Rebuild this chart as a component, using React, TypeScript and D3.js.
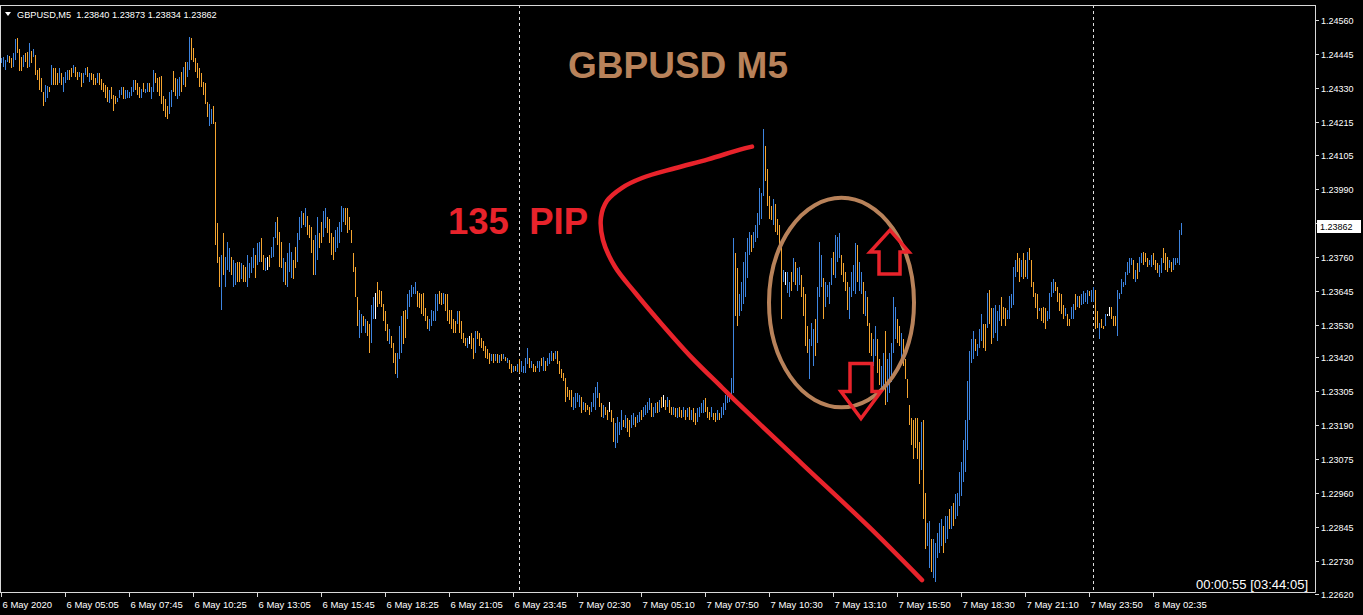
import React from "react";
import * as d3 from "d3";

// Bar highs / lows in pips above 1.2000 (price = 1.2 + v / 10000), one per 5-minute bar
const high = [
443.2,443.5,442.5,444.2,443.8,443.2,444.8,449.5,449.8,446.2,
443.5,444.2,444.8,445.2,448.2,445.5,446.2,444.2,439.2,439.8,
436.5,431.8,434.2,433.8,433.5,440.8,439.8,439.8,438.2,439.8,
438.2,436.8,438.5,439.2,439.2,439.8,440.8,440.2,438.5,438.5,
438.2,438.2,439.8,440.2,438.2,438.2,437.8,436.5,438.2,438.2,
436.2,434.8,434.2,433.2,432.5,433.5,430.8,430.2,429.8,432.5,
433.5,433.2,432.5,432.5,431.8,433.5,435.8,435.8,434.8,433.2,
432.8,434.8,432.8,434.8,434.8,433.2,439.2,438.2,436.5,436.8,
437.2,430.2,429.2,426.8,431.5,432.5,438.8,436.5,436.2,436.8,
438.5,440.2,441.8,441.8,450.2,449.8,446.5,443.2,441.5,439.8,
438.2,435.2,434.8,428.2,427.5,425.8,426.8,421.5,387.3,375.9,
376.6,383.9,375.9,380.9,378.9,375.9,374.9,373.9,374.3,
374.3,373.9,373.3,372.6,376.6,373.9,375.9,378.9,376.6,380.6,
380.9,382.3,376.6,375.6,375.9,376.6,379.3,382.6,387.6,389.3,
384.3,380.9,375.6,374.3,377.3,380.6,377.6,374.9,379.3,383.9,
389.3,391.6,390.9,392.3,389.9,386.6,385.9,381.6,383.3,389.3,
383.9,387.6,391.6,392.6,389.3,388.9,383.9,382.6,384.9,385.9,
387.6,393.3,392.3,392.6,392.6,389.3,384.9,377.3,372.6,362.3,
358.1,356.5,355.8,355.1,354.1,353.1,359.8,362.3,363.9,367.6,
364.9,364.3,360.1,357.5,353.1,351.5,349.1,346.8,343.5,343.5,
352.5,355.8,357.5,358.1,363.3,364.9,366.6,365.9,367.6,364.3,
363.9,363.3,363.9,358.5,355.8,355.1,358.1,357.5,363.3,363.3,
364.3,363.9,363.9,363.3,363.3,358.1,358.1,354.8,354.1,357.5,
357.5,354.1,350.1,348.5,348.5,349.1,350.1,348.5,350.8,350.8,350.1,
348.5,347.5,345.8,344.8,343.5,343.1,343.1,343.1,343.1,342.8,
343.1,343.1,342.1,341.8,341.1,339.8,339.1,339.1,339.8,341.5,
340.8,339.1,341.8,345.1,341.8,340.8,339.8,339.1,340.8,340.8,
341.8,342.1,340.8,341.8,343.5,344.1,343.5,344.1,344.1,340.8,
338.1,336.8,335.1,331.8,330.8,330.8,328.5,329.8,329.8,329.1,
328.5,326.8,326.5,325.8,325.1,326.8,329.8,331.8,333.5,329.8,
326.5,325.8,325.1,324.1,326.8,324.1,321.5,319.8,321.8,320.1,
324.1,320.8,322.5,321.5,320.8,322.5,323.1,321.8,322.5,323.5,
324.1,325.1,325.8,326.8,328.1,326.5,325.1,326.5,326.8,327.5,
328.5,329.1,327.5,328.5,327.5,325.1,325.1,324.8,324.8,325.1,
324.1,325.1,324.1,324.8,325.1,324.1,324.8,323.1,324.8,325.1,
326.5,327.5,328.1,325.1,323.5,325.1,323.1,323.1,324.1,323.1,
325.1,326.5,329.1,330.8,329.8,335.1,382.3,377.3,372.3,
363.3,367.6,374.3,377.6,382.3,384.3,383.3,384.3,386.6,390.9,
399.3,397.6,419.2,413.5,405.6,396.6,393.3,395.6,393.9,388.9,
386.6,379.9,371.6,370.9,370.9,367.6,370.9,375.6,374.3,372.3,
372.6,369.9,365.6,363.3,352.5,348.1,353.5,351.5,354.8,365.6,
380.9,376.6,368.9,367.6,366.6,367.6,375.6,377.6,383.3,382.6,
383.9,376.6,373.9,370.9,367.6,365.6,370.9,373.3,380.6,379.9,
374.3,370.9,367.6,364.3,362.3,353.5,350.1,348.1,352.5,348.1,
341.5,339.1,343.5,350.8,341.5,343.5,346.8,362.3,359.1,354.8,
352.5,350.1,348.1,341.5,334.8,325.8,321.5,320.8,321.5,321.5,
313.5,320.1,320.8,296.0,286.0,286.7,280.7,280.7,279.3,282.7,
286.0,287.3,285.0,288.3,288.3,290.7,291.7,292.7,295.7,296.0,
303.3,306.7,314.1,320.8,334.1,344.1,348.1,350.8,348.1,346.5,
351.5,356.5,353.1,353.1,363.9,364.9,358.5,358.5,359.8,357.5,
359.8,362.3,359.1,358.5,358.1,362.6,363.3,372.6,374.9,377.3,
375.6,374.9,377.3,374.9,377.6,378.9,374.9,367.3,363.9,363.3,
358.5,358.5,359.1,358.5,357.5,363.9,367.3,368.3,367.6,365.6,
363.9,363.3,359.8,358.5,356.8,355.1,359.1,360.1,363.3,362.6,
362.6,363.3,364.3,363.9,364.9,364.3,364.9,365.6,364.9,357.5,
353.5,355.1,352.5,356.5,356.8,359.1,359.1,355.8,355.8,364.9,
363.9,368.3,367.6,370.9,374.3,375.6,375.6,374.9,371.6,373.9,
375.9,377.3,377.6,377.3,375.6,374.9,376.6,377.3,374.9,373.9,
373.3,375.6,378.9,377.3,375.9,374.9,374.3,375.6,375.6,375.6,
384.9,387.3
];

const low = [
441.5,440.2,439.2,441.8,441.5,439.8,440.2,442.5,444.8,438.8,
438.8,440.2,441.8,439.8,440.2,441.5,443.5,437.5,435.8,432.5,
431.5,426.8,428.2,429.8,431.8,434.2,434.2,434.2,434.2,434.8,
434.2,431.8,434.8,435.8,435.8,436.8,438.2,436.8,435.8,436.8,
433.5,434.8,437.5,436.8,435.2,435.8,434.2,434.2,434.8,434.2,
432.5,431.8,429.8,428.2,427.8,429.2,425.2,427.5,428.2,429.8,
430.8,429.2,429.2,429.8,429.8,430.2,431.5,432.5,430.8,429.8,
429.8,431.5,431.2,431.5,431.5,429.2,431.8,434.8,431.8,430.2,
427.5,425.2,423.2,422.5,424.2,426.5,431.8,430.2,429.2,430.2,
431.5,434.2,433.5,436.8,439.2,442.5,441.8,438.5,436.5,433.5,
433.2,430.8,427.5,423.2,420.2,420.8,420.8,379.9,373.9,365.6,
358.1,369.9,365.9,371.6,370.9,369.9,365.6,366.6,367.3,
367.3,368.3,367.6,367.3,365.6,368.9,370.6,372.3,368.9,373.3,
374.3,374.3,371.6,371.3,371.6,372.6,375.6,375.9,382.3,379.9,
372.6,372.3,367.3,366.6,365.6,370.9,368.9,368.3,372.3,374.3,
381.6,385.6,386.6,385.9,383.3,382.3,377.3,369.9,369.9,374.9,
378.9,380.6,382.6,385.6,383.9,380.6,376.6,374.9,377.6,378.9,
380.6,384.3,387.6,386.6,383.9,384.9,380.6,370.9,362.3,352.5,
348.5,350.1,352.5,350.1,349.1,343.5,346.8,354.8,354.8,359.1,
360.1,359.1,354.1,350.8,347.5,346.5,345.1,340.1,336.5,335.1,
341.5,343.5,346.5,348.5,355.1,359.1,362.3,363.3,363.3,359.1,
358.5,356.8,355.8,354.1,351.5,350.8,352.5,354.1,354.1,357.5,
360.1,359.8,360.1,357.5,354.1,353.1,351.5,350.1,350.1,353.1,
350.1,348.1,346.8,345.8,345.1,346.5,344.8,341.5,343.5,348.1,345.8,
345.1,344.1,341.8,341.5,339.8,340.8,340.1,340.8,340.1,340.1,
340.8,341.5,340.8,340.1,338.1,336.8,337.1,337.5,337.1,336.8,
337.1,336.8,336.8,339.8,338.5,338.5,337.1,337.1,338.5,337.1,
339.1,337.5,337.5,339.1,339.8,340.8,340.8,341.5,339.8,336.5,
335.1,334.1,326.8,328.5,327.5,325.1,324.1,324.8,326.8,325.1,
323.1,324.1,323.5,324.1,322.5,323.5,325.1,324.1,328.1,325.1,
321.8,321.5,322.5,320.8,323.5,320.1,313.5,311.5,313.1,315.8,
317.5,318.5,318.1,316.8,315.1,318.1,319.1,318.5,319.8,320.1,
320.8,321.8,322.5,323.1,324.1,321.8,321.8,323.1,323.1,323.5,
324.8,325.1,324.1,325.1,323.1,322.5,322.5,321.8,321.5,321.8,
321.5,321.8,320.8,321.8,320.8,320.8,320.1,319.1,320.1,321.8,
323.1,323.1,323.5,321.5,320.8,321.8,320.8,320.1,320.8,320.8,
321.5,322.5,324.1,326.5,326.8,328.5,329.8,355.8,352.5,
355.8,357.5,360.1,362.3,368.9,376.6,377.6,378.9,380.9,382.3,
386.6,388.9,396.6,401.6,393.3,388.9,388.3,386.6,384.3,383.3,
379.9,354.8,367.3,366.6,363.9,362.3,364.3,367.6,366.6,364.3,
366.6,362.3,355.8,345.8,343.5,334.8,345.8,339.1,342.5,346.8,
362.3,365.6,354.8,359.1,362.3,360.1,366.6,369.9,368.9,374.3,
375.6,369.9,367.6,364.3,358.1,354.8,362.3,364.3,363.3,367.6,
364.3,363.3,356.8,355.8,352.5,343.5,342.5,339.1,342.5,336.8,
332.5,330.1,331.5,325.8,326.8,330.1,333.5,343.5,348.1,346.8,
345.8,341.5,339.1,334.8,328.1,319.1,312.5,307.5,311.5,307.5,
299.3,304.0,287.3,277.3,278.3,270.7,269.3,267.3,266.0,274.0,
276.0,278.3,276.0,279.3,280.7,284.0,284.0,285.0,287.3,288.3,
291.7,295.0,300.0,303.3,310.8,320.8,340.1,341.5,344.1,342.5,
345.1,347.5,345.1,344.1,351.8,353.1,346.5,348.5,350.1,347.5,
354.1,352.5,355.1,352.5,354.8,355.1,358.5,359.8,369.3,370.9,
367.6,369.3,368.3,369.3,368.3,374.9,365.6,362.3,358.5,355.1,
357.5,354.1,353.5,351.5,354.1,355.1,362.3,363.9,364.3,360.8,
357.5,356.8,355.1,355.8,352.5,352.5,354.8,355.1,358.1,359.1,
358.5,359.8,360.1,360.8,360.1,362.6,360.8,360.8,351.5,351.8,
348.1,351.8,351.5,352.5,355.8,355.8,354.8,352.5,352.5,349.1,
361.6,363.3,365.9,366.6,369.9,370.6,373.3,368.3,367.3,368.3,
370.9,373.9,373.3,374.3,372.6,373.3,372.6,373.3,371.6,370.6,
369.3,370.6,373.9,371.6,370.9,372.3,370.9,371.6,373.3,373.9,
373.3,383.4
];

// bar direction: u = close above open, d = close below, n = unchanged
const direction = (
  "uuuudduudd" + "duddududdd" + "dduududddu" + "duuudduddu" + "duududddud" +
  "dddduddduu" + "uduuuuuddd" + "uduuduuddd" + "dddduudduu" + "duduuddddd" +
  "dddduudddd" + "uduuuduud" +
  "d" + "udduuuuduu" + "ddunduuudd" + "duduuudduu" + "ududddduud" + "duudddduuu" +
  "uudddddddu" + "ududduundd" + "dddduddduu" + "udduuuuudd" + "dddduuuuud" +
  "duddddddud" + "dddunddudd" +
  "dddddududu" + "dududdudud" + "uuuududduu" + "duduuududd" + "dddddduuuu" +
  "duddduuuud" + "duddndduuu" + "ududduuduu" + "duuuuduudu" + "dnduddudud" +
  "dudududduu" + "uuddduddud" + "uuuuuuudd" +
  "uuuuuuduuu" + "uuuddddudd" + "ddunuududu" + "udddduuudu" + "uuduuuuduu" +
  "udddduuuud" + "uududdduud" + "duuduuuuud" + "dudddddddd" + "dudduuduuu" +
  "uuduududuu" +
  "uuuuuuuudu" + "uuddudduuu" + "uddduuuuud" + "dudduddddd" + "uddduuuudd" +
  "dddudduudu" + "duuuuduudd" + "uddunndddu" + "uuuuuuudud" + "uuddduuddd" +
  "uuddduduuu" + "uu"
).split("");

const timeLabels = [
  "6 May 2020", "6 May 05:05", "6 May 07:45", "6 May 10:25", "6 May 13:05",
  "6 May 15:45", "6 May 18:25", "6 May 21:05", "6 May 23:45", "7 May 02:30",
  "7 May 05:10", "7 May 07:50", "7 May 10:30", "7 May 13:10", "7 May 15:50",
  "7 May 18:30", "7 May 21:10", "7 May 23:50", "8 May 02:35",
];
const barsPerLabel = 32;
const daySeparators = [259, 546];

const priceTicks = [
  1.2456, 1.24445, 1.2433, 1.24215, 1.24105, 1.2399, 1.23875, 1.2376, 1.23645,
  1.2353, 1.2342, 1.23305, 1.2319, 1.23075, 1.2296, 1.22845, 1.2273, 1.2262,
];

const lastBar = { open: 1.2384, high: 1.23873, low: 1.23834, close: 1.23862 };

// annotations anchored at [bar index, pips above 1.2000]
const curvePoints: [number, number][] = [
  [375.5, 413.2], [369.5, 412.2], [353.5, 408.9], [337, 405.9], [320.5, 402.6],
  [310.5, 399.3], [303, 394.9], [300, 389.3], [301, 381.6], [307, 372.6],
  [317, 363.9], [330.5, 353.1], [345.5, 341.8], [360.5, 331.8], [369.5, 325.8],
  [400.5, 306.0], [433.5, 285.0], [460.5, 266.7],
];
const ellipseBox = { i0: 384, i1: 456.5, top: 395.9, bottom: 325.1 };
const upArrowTip: [number, number] = [444.5, 385.0];
const downArrowTip: [number, number] = [430, 321.3];

const W = 1363;
const H = 615;
const frameRight = 1315;
const frameTop = 5;
const frameBottom = 592;
const FONT = "'Liberation Sans', Arial, sans-serif";
const UP_COLOR = "#3d84e0";
const DOWN_COLOR = "#f5a530";
const FLAT_COLOR = "#ffffff";
const RED = "#e8232b";
const BROWN = "#b8825a";

const toPrice = (v: number) => 1.2 + v / 10000;

export default function App() {
  const n = Math.min(high.length, low.length, direction.length);
  const x = d3.scaleLinear().domain([0, 590]).range([1, 1181]);
  const y = d3.scaleLinear().domain([1.2262, 1.2456]).range([594, 20]);

  const barData = d3.range(n).map((i) => {
    const left = Math.round(x(i));
    const top = Math.round(y(toPrice(high[i])));
    const bottom = Math.max(top + 1, Math.round(y(toPrice(low[i]))));
    const dirChar = direction[i];
    const color = dirChar === "u" ? UP_COLOR : dirChar === "d" ? DOWN_COLOR : FLAT_COLOR;
    return { i, left, top, h: bottom - top, color };
  });

  const line = d3
    .line<[number, number]>()
    .x((p) => x(p[0]))
    .y((p) => y(toPrice(p[1])))
    .curve(d3.curveCatmullRom.alpha(0.5));

  const ex0 = x(ellipseBox.i0), ex1 = x(ellipseBox.i1);
  const ey0 = y(toPrice(ellipseBox.top)), ey1 = y(toPrice(ellipseBox.bottom));

  const ux = x(upArrowTip[0]), uy = y(toPrice(upArrowTip[1]));
  const upPath = `M${ux},${uy} L${ux + 19},${uy + 22} L${ux + 10},${uy + 22} L${ux + 10},${uy + 44} L${ux - 11},${uy + 44} L${ux - 11},${uy + 22} L${ux - 20},${uy + 22} Z`;
  const ax = x(downArrowTip[0]), ay = y(toPrice(downArrowTip[1]));
  const downPath = `M${ax},${ay} L${ax + 20},${ay - 27} L${ax + 11},${ay - 27} L${ax + 11},${ay - 55} L${ax - 11},${ay - 55} L${ax - 11},${ay - 27} L${ax - 20},${ay - 27} Z`;

  const cy = Math.round(y(lastBar.close));

  return (
    <svg
      width={W}
      height={H}
      style={{ position: "absolute", left: 0, top: 0, display: "block", background: "#000" }}
    >
      <rect x={0} y={0} width={W} height={H} fill="#000" />
      {daySeparators.map((s) => (
        <line
          key={s}
          x1={Math.round(x(s)) + 0.5}
          x2={Math.round(x(s)) + 0.5}
          y1={frameTop}
          y2={frameBottom}
          stroke="#e0e0e0"
          strokeWidth={1}
          strokeDasharray="3,3"
        />
      ))}
      <g>
        {barData.map((b) => (
          <rect key={b.i} x={b.left} y={b.top} width={1} height={b.h} fill={b.color} />
        ))}
      </g>

      <g stroke="#d8d8d8" strokeWidth={1} fill="none">
        <line x1={0} x2={frameRight + 0.5} y1={frameTop + 0.5} y2={frameTop + 0.5} />
        <line x1={frameRight + 0.5} x2={frameRight + 0.5} y1={frameTop} y2={frameBottom + 0.5} />
        <line x1={0} x2={frameRight + 0.5} y1={frameBottom + 0.5} y2={frameBottom + 0.5} />
        <line x1={0.5} x2={0.5} y1={frameTop} y2={frameBottom} />
      </g>

      {priceTicks.map((p) => {
        const yy = Math.round(y(p)) + 0.5;
        return (
          <g key={p}>
            <line x1={frameRight} x2={frameRight + 4} y1={yy} y2={yy} stroke="#d8d8d8" />
            <text x={frameRight + 6} y={yy + 3} fill="#ffffff" fontFamily={FONT} fontSize={9}>
              {p.toFixed(5)}
            </text>
          </g>
        );
      })}
      <rect x={1317} y={cy - 7} width={44} height={13} fill="#ffffff" />
      <text x={1320} y={cy + 3} fill="#000" fontFamily={FONT} fontSize={9}>
        {lastBar.close.toFixed(5)}
      </text>

      {timeLabels.map((t, k) => {
        const xx = Math.round(x(k * barsPerLabel)) + 0.5;
        return (
          <g key={t}>
            <line x1={xx} x2={xx} y1={frameBottom} y2={frameBottom + 5} stroke="#d8d8d8" />
            <text x={xx + 1} y={frameBottom + 16} fill="#ffffff" fontFamily={FONT} fontSize={9.5}>
              {t}
            </text>
          </g>
        );
      })}

      <path d="M5,12 L11,12 L8,16 Z" fill="#ffffff" />
      <text x={17} y={18} fill="#ffffff" fontFamily={FONT} fontSize={9.2} xmlSpace="preserve">
        {`GBPUSD,M5  ${lastBar.open.toFixed(5)} ${lastBar.high.toFixed(5)} ${lastBar.low.toFixed(5)} ${lastBar.close.toFixed(5)}`}
      </text>

      <text x={1308} y={589} textAnchor="end" fill="#ffffff" fontFamily={FONT} fontSize={13}>
        00:00:55 [03:44:05]
      </text>

      <text x={568} y={78} fill={BROWN} fontFamily={FONT} fontWeight="bold" fontSize={37}>
        GBPUSD M5
      </text>
      <text x={448} y={234} fill={RED} fontFamily={FONT} fontWeight="bold" fontSize={36.5} xmlSpace="preserve">
        {"135  PIP"}
      </text>
      <path d={line(curvePoints) || ""} fill="none" stroke={RED} strokeWidth={4.5} strokeLinecap="round" />
      <ellipse
        cx={(ex0 + ex1) / 2}
        cy={(ey0 + ey1) / 2}
        rx={(ex1 - ex0) / 2}
        ry={(ey1 - ey0) / 2}
        fill="none"
        stroke={BROWN}
        strokeWidth={4}
      />
      <path d={upPath} fill="none" stroke={RED} strokeWidth={3.5} strokeLinejoin="miter" />
      <path d={downPath} fill="none" stroke={RED} strokeWidth={3.5} strokeLinejoin="miter" />
    </svg>
  );
}
